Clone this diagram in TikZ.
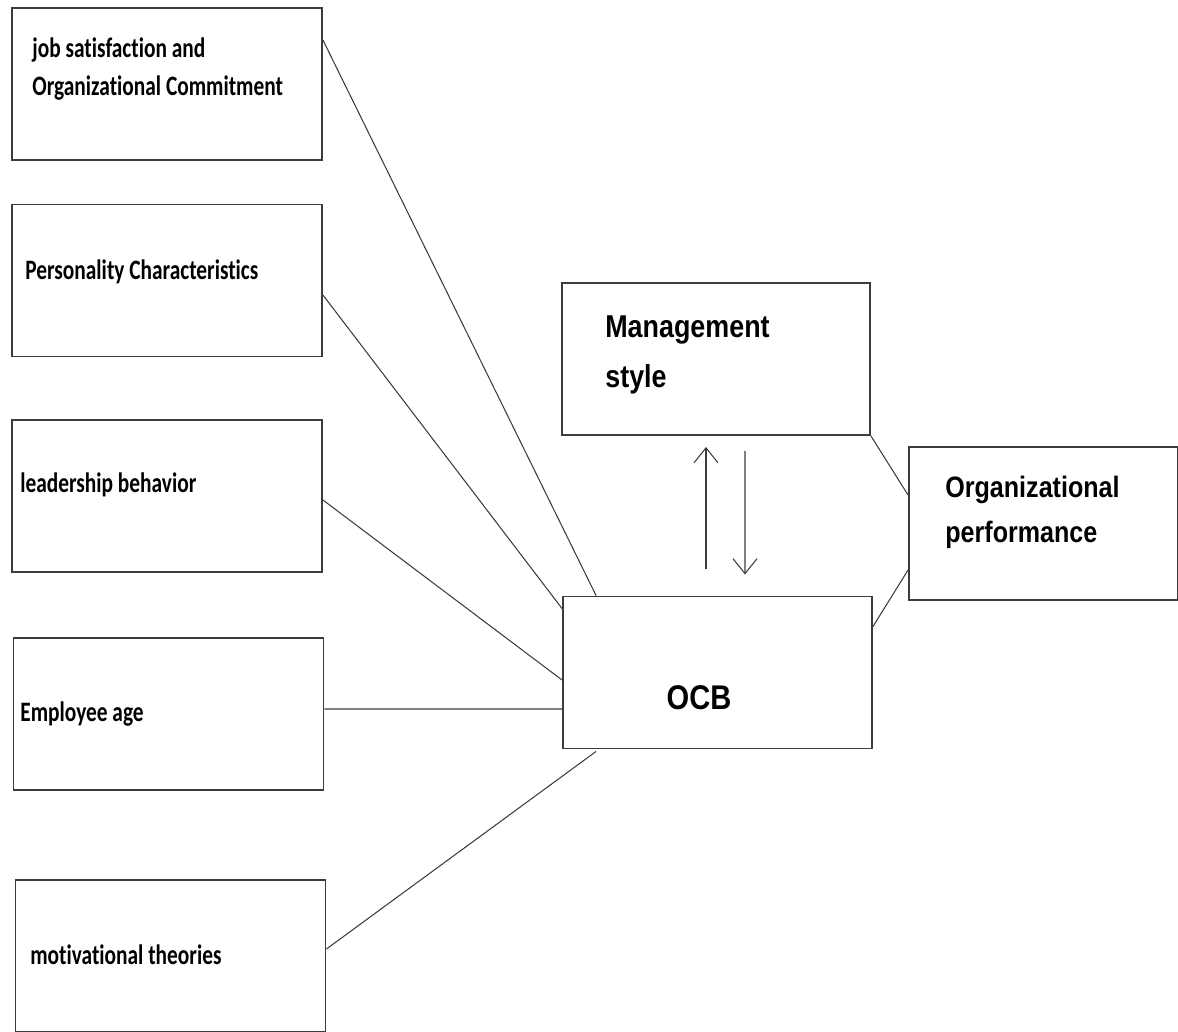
\documentclass[tikz,border=0pt]{standalone}
\usepackage{fontspec}
\usepackage{tikz}
\usetikzlibrary{calc}
\usetikzlibrary{arrows.meta}
\newfontfamily\leftfont[FakeStretch=0.76, Ligatures=NoCommon]{Carlito}
\newfontfamily\rightfont[FakeStretch=0.85]{Liberation Sans}
\definecolor{linegray}{RGB}{60,60,60}
\tikzset{
	box/.style={draw=linegray, line width=1.1pt, minimum width=6.2cm, minimum height=3.04cm, inner sep=0pt},
	lefttext/.style={anchor=west, inner sep=0pt, align=left, font=\leftfont\bfseries\fontsize{16}{21.5}\selectfont},
	righttext/.style={anchor=west, inner sep=0pt, align=left, font=\rightfont\bfseries\fontsize{16.8}{25.6}\selectfont},
	link/.style={draw=linegray, line width=0.6pt},
	flow/.style={link, -{Straight Barb[length=0.3cm, width=0.48cm]}}
}

\begin{document}
\begin{tikzpicture}[x=0.02cm, y=-0.02cm]
	\useasboundingbox (0,0) rectangle (1178,1032);

	% factors on the left
	\node[box] (jobsat) at (167,84) {};
	\node[box] (persona) at (167,280.5) {};
	\node[box] (leader) at (167,496) {};
	\node[box] (empage) at (168.5,714) {};
	\node[box] (motiv) at (170.5,956) {};
	\node[lefttext] (jobsatT) at (32,69) {job satisfaction and\\Organizational Commitment};
	\node[lefttext] (personaT) at (25,272) {Personality Characteristics};
	\node[lefttext] (leaderT) at (20,485) {leadership behavior};
	\node[lefttext] (empageT) at (20,714) {Employee age};
	\node[lefttext] (motivT) at (30,955) {motivational theories};

	% centre and right
	\node[box, minimum width=6.16cm] (mgmt) at (716,359) {};
	\node[box, minimum width=6.18cm] (ocb) at (717.5,672.5) {};
	\node[box, minimum width=5.38cm, minimum height=3.06cm] (orgperf) at (1043.5,523.5) {};
	\node[righttext, font=\rightfont\bfseries\fontsize{18}{28.4}\selectfont] (mgmtT) at (605,355) {Management\\style};
	\node[righttext, anchor=center, font=\rightfont\bfseries\fontsize{19.5}{26}\selectfont] (ocbT) at (699,698) {OCB};
	\node[righttext] (orgperfT) at (945,512) {Organizational\\performance};

	\draw[link] ([shift={(0,-44)}]jobsat.east) -- ([shift={(34,0)}]ocb.north west);
	\draw[link] ([shift={(0,14.5)}]persona.east) -- ([shift={(0,13)}]ocb.north west);
	\draw[link] ([shift={(0,4)}]leader.east) -- ([shift={(0,7.5)}]ocb.west);
	\draw[link] ([shift={(0,-5)}]empage.east) -- ([shift={(0,36.5)}]ocb.west);
	\draw[link] ([shift={(0,-7)}]motiv.east) -- ([shift={(34,2)}]ocb.south west);

	\draw[link] (mgmt.south east) -- ([shift={(0,-28.5)}]orgperf.west);
	\draw[link] ([shift={(0,31)}]ocb.north east) -- ([shift={(0,46.5)}]orgperf.west);

	\draw[flow] ([shift={(-11.5,-27)}]ocb.north) -- ([shift={(-10,11)}]mgmt.south);
	\draw[flow] ([shift={(29,15)}]mgmt.south) -- ([shift={(27.5,-21)}]ocb.north);
\end{tikzpicture}
\end{document}
